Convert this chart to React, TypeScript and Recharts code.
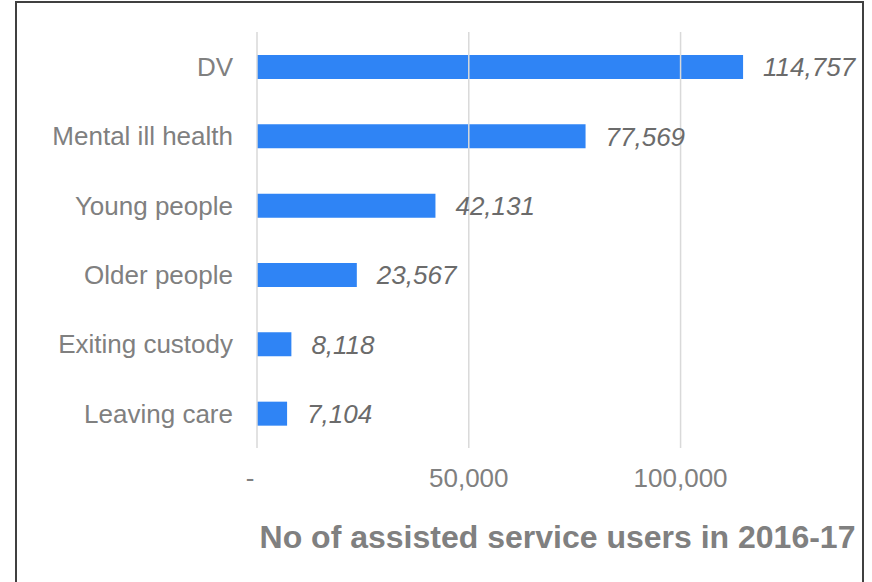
import React from 'react';
import {
  BarChart,
  Bar,
  XAxis,
  YAxis,
  ReferenceLine,
  LabelList
} from 'recharts';

const categories = [
  'DV',
  'Mental ill health',
  'Young people',
  'Older people',
  'Exiting custody',
  'Leaving care'
];
const users = [114757, 77569, 42131, 23567, 8118, 7104];
const xTicks = [0, 50000, 100000];
const axisTitle = 'No of assisted service users in 2016-17';

const data = categories.map((name, i) => ({ name, users: users[i] }));

const FONT = '"Liberation Sans", Arial, sans-serif';

const fmt = (v: number) => (v === 0 ? '-' : v.toLocaleString('en-US'));

const XTick = (props: any) => {
  const { x, y, payload } = props;
  const isZero = payload.value === 0;
  return (
    <text
      x={isZero ? x - 7 : x}
      y={y}
      dy={25}
      textAnchor="middle"
      fill="#808080"
      fontSize={26}
      fontFamily={FONT}
    >
      {fmt(payload.value)}
    </text>
  );
};

export default function App() {
  return (
    <div style={{ position: 'absolute', left: 0, top: 0, width: 872, height: 582, overflow: 'hidden', background: '#fff' }}>
      <div
        style={{
          position: 'absolute',
          left: 15,
          top: 1,
          width: 849,
          height: 620,
          border: '2px solid #404040',
          boxSizing: 'border-box'
        }}
      />
      <div style={{ position: 'absolute', left: 0, top: 0 }}>
        <BarChart
          width={872}
          height={582}
          data={data}
          layout="vertical"
          margin={{ top: 32, right: 22, left: 0, bottom: 0 }}
          barSize={24}
        >
          {xTicks.map((t) => (
            <ReferenceLine key={t} x={t} stroke="#d9d9d9" strokeWidth={1.5} />
          ))}
          <XAxis
            type="number"
            domain={[0, 140000]}
            ticks={xTicks}
            axisLine={false}
            tickLine={false}
            height={134}
            tick={<XTick />}
            tickMargin={8}
            label={{
              value: axisTitle,
              position: 'insideBottom',
              offset: 34,
              dx: 4,
              fill: '#808080',
              fontSize: 32,
              fontWeight: 'bold',
              fontFamily: FONT
            }}
          />
          <YAxis
            type="category"
            dataKey="name"
            width={257}
            axisLine={false}
            tickLine={false}
            tickMargin={18}
            tick={{ fill: '#808080', fontSize: 26, fontFamily: FONT }}
          />
          <Bar dataKey="users" fill="#2F84F5" isAnimationActive={false}>
            <LabelList
              dataKey="users"
              position="right"
              offset={20}
              formatter={(v: any) => Number(v).toLocaleString('en-US')}
              style={{ fill: '#6b6b6b', fontSize: 26, fontStyle: 'italic', fontFamily: FONT }}
            />
          </Bar>
        </BarChart>
      </div>
    </div>
  );
}
